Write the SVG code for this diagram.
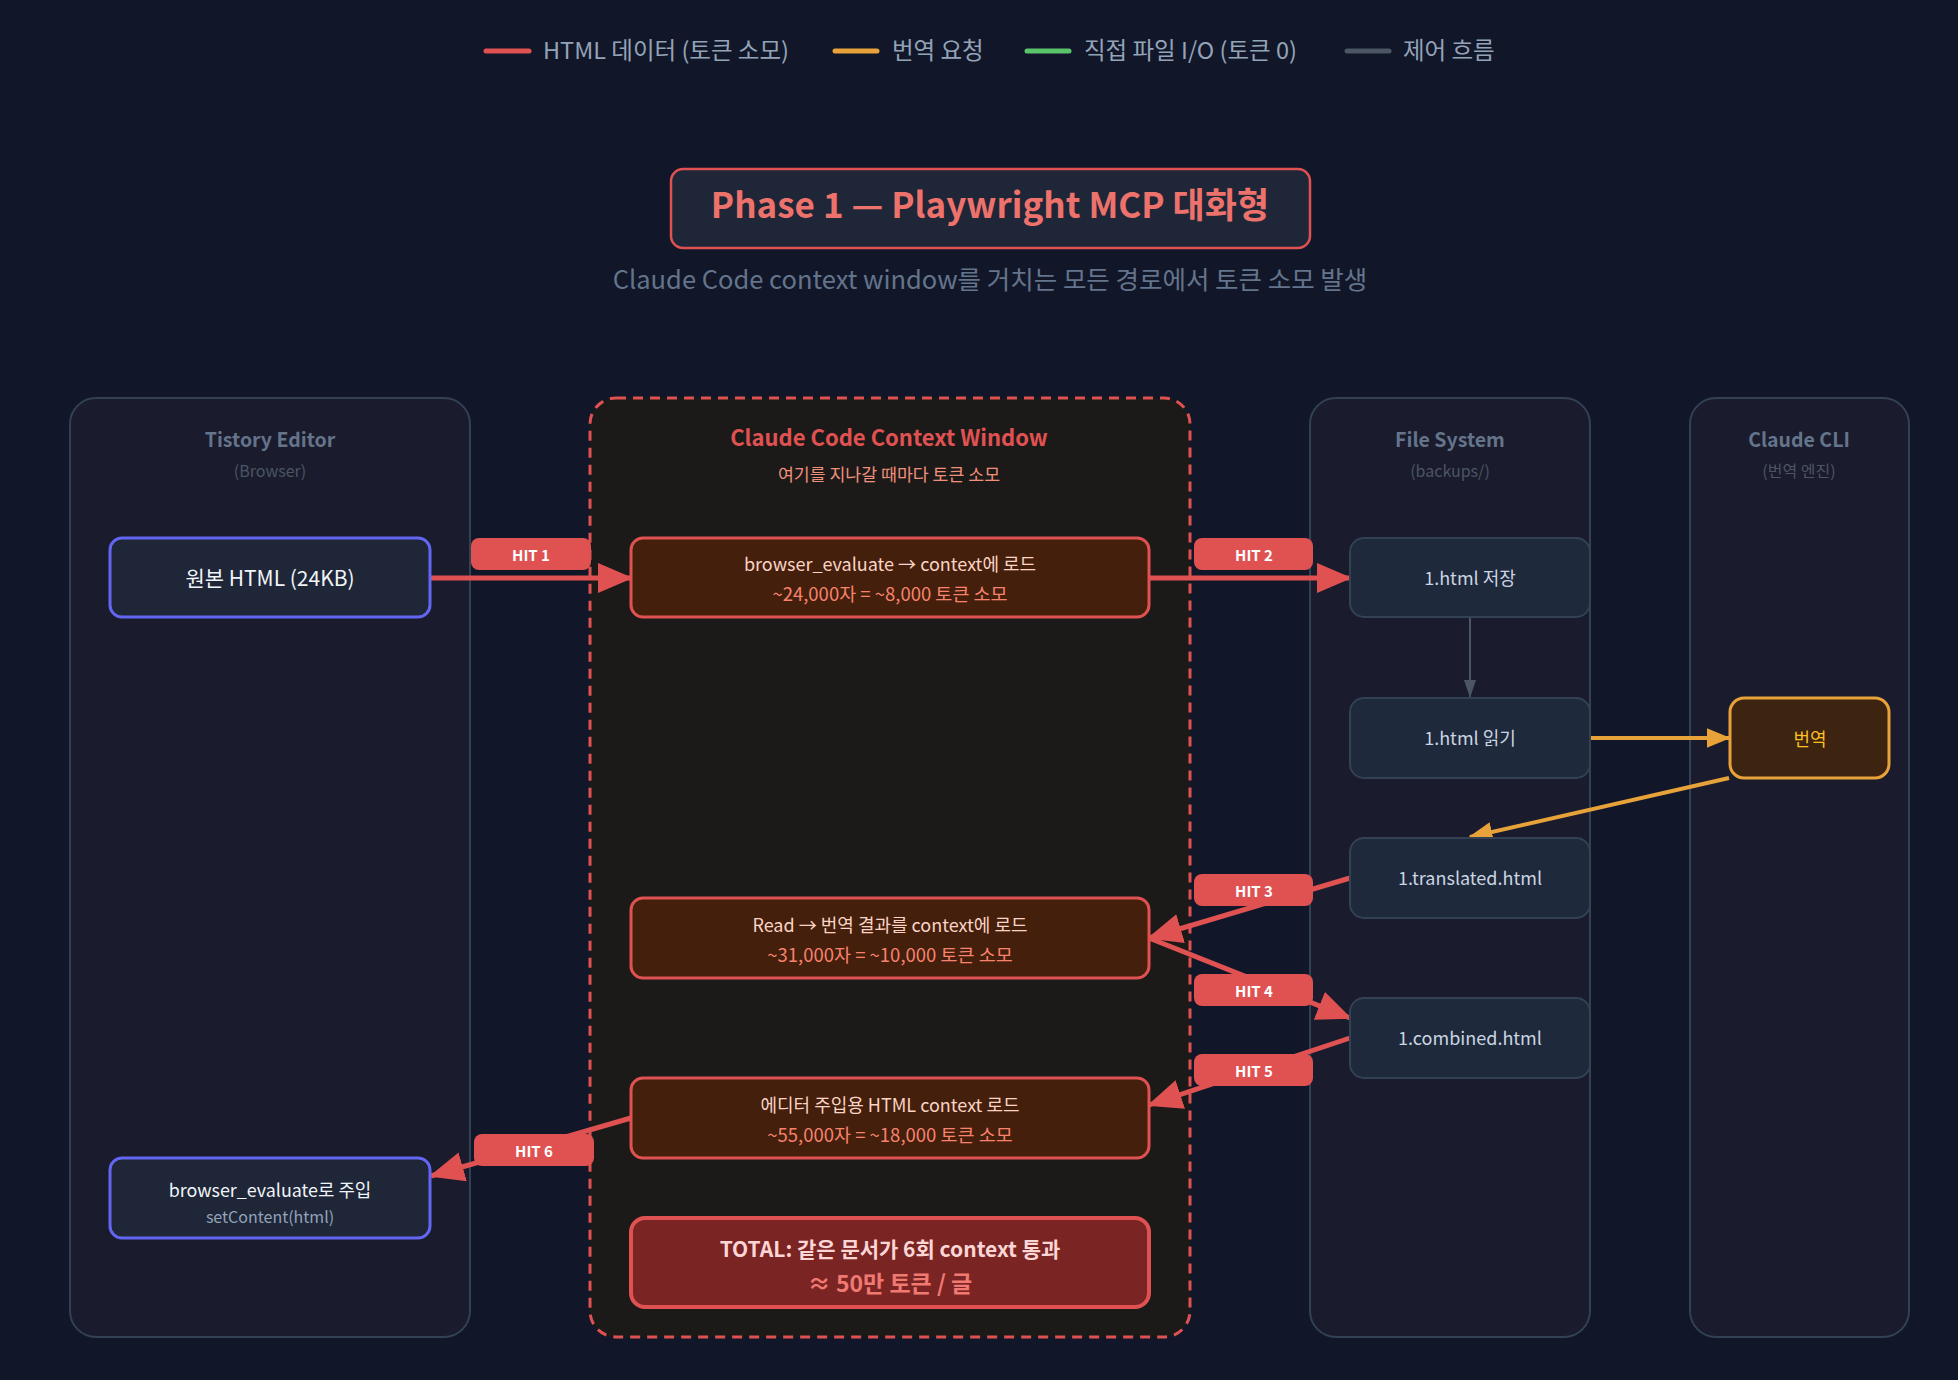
<svg xmlns="http://www.w3.org/2000/svg" width="1958" height="1380" viewBox="0 0 1958 1380">
<defs>
<style>
text{font-family:"Noto Sans CJK KR","Noto Sans",sans-serif;}
.lg{font-size:23.5px;fill:#94a3b8;}
.col{fill:#1a1b2d;stroke:#334155;stroke-width:2;}
.colh{font-size:19.5px;font-weight:600;fill:#64748b;text-anchor:middle;}
.cols{font-size:16px;fill:#4b5563;text-anchor:middle;}
.fs{fill:#1e293b;stroke:#334155;stroke-width:2;}
.fst{font-size:18px;fill:#cbd5e1;text-anchor:middle;}
.tis{fill:#1e2638;stroke:#6366f1;stroke-width:3;}
.tist{font-size:21px;fill:#f1f5f9;text-anchor:middle;}
.tist2{font-size:17.9px;fill:#f1f5f9;text-anchor:middle;}
.ctx{fill:#431f0c;stroke:#e05252;stroke-width:3;}
.ct1{font-size:18px;fill:#fcd3c4;text-anchor:middle;}
.ct2{font-size:18.5px;fill:#f8826c;text-anchor:middle;}
.red{stroke:#e05252;stroke-width:5;fill:none;marker-end:url(#ar);}
.org{stroke:#e8a23a;stroke-width:4;fill:none;marker-end:url(#ao);}
.gry{stroke:#4b5563;stroke-width:2;fill:none;marker-end:url(#ag);}
.hit rect{fill:#e05252;}
.hit text{font-size:15px;font-weight:700;fill:#ffffff;text-anchor:middle;}
</style>
<marker id="ar" markerWidth="7" markerHeight="6" refX="6.6" refY="3" orient="auto" markerUnits="strokeWidth"><path d="M0,0 L7,3 L0,6 z" fill="#e05252"/></marker>
<marker id="ao" markerWidth="6" markerHeight="5" refX="5.6" refY="2.5" orient="auto" markerUnits="strokeWidth"><path d="M0,0 L6,2.5 L0,5 z" fill="#e8a23a"/></marker>
<marker id="ag" markerWidth="9" markerHeight="6" refX="9" refY="3" orient="auto" markerUnits="strokeWidth"><path d="M0,0 L9,3 L0,6 z" fill="#4b5563"/></marker>
</defs>
<rect width="1958" height="1380" fill="#111729"/>

<g id="legend">
<line x1="486" y1="51" x2="529" y2="51" stroke="#e05252" stroke-width="5" stroke-linecap="round"/>
<text class="lg" x="543" y="59">HTML 데이터 (토큰 소모)</text>
<line x1="835" y1="51" x2="877" y2="51" stroke="#e8a23a" stroke-width="5" stroke-linecap="round"/>
<text class="lg" x="892" y="59">번역 요청</text>
<line x1="1027" y1="51" x2="1069" y2="51" stroke="#5ac46a" stroke-width="5" stroke-linecap="round"/>
<text class="lg" x="1084" y="59">직접 파일 I/O (토큰 0)</text>
<line x1="1347" y1="51" x2="1389" y2="51" stroke="#4b5563" stroke-width="5" stroke-linecap="round"/>
<text class="lg" x="1403" y="59">제어 흐름</text>
</g>

<g id="title">
<rect x="671" y="169" width="639" height="79" rx="12" fill="#1e2638" stroke="#e05252" stroke-width="2.5"/>
<text x="990" y="218" font-size="35" font-weight="700" fill="#ee726c" text-anchor="middle">Phase 1 — Playwright MCP 대화형</text>
<text x="990" y="289" font-size="25.5" fill="#64748b" text-anchor="middle">Claude Code context window를 거치는 모든 경로에서 토큰 소모 발생</text>
</g>

<g id="col-tistory">
<rect class="col" x="70" y="398" width="400" height="939" rx="26"/>
<text class="colh" x="270" y="447">Tistory Editor</text>
<text class="cols" x="270" y="477">(Browser)</text>
</g>
<g id="col-context">
<rect x="590" y="398" width="600" height="939" rx="26" fill="#1c1a19" stroke="#e05252" stroke-width="3" stroke-dasharray="10 7"/>
<text x="889" y="446" font-size="22" font-weight="700" fill="#e05252" text-anchor="middle">Claude Code Context Window</text>
<text x="889" y="481" font-size="17.3" fill="#f0907a" text-anchor="middle">여기를 지나갈 때마다 토큰 소모</text>
</g>
<g id="col-fs">
<rect class="col" x="1310" y="398" width="280" height="939" rx="26"/>
<text class="colh" x="1450" y="447">File System</text>
<text class="cols" x="1450" y="477">(backups/)</text>
</g>
<g id="col-cli">
<rect class="col" x="1690" y="398" width="219" height="939" rx="26"/>
<text class="colh" x="1799" y="447">Claude CLI</text>
<text class="cols" x="1799" y="477">(번역 엔진)</text>
</g>

<g id="connectors">
<path class="red" d="M430,578 L631,578"/>
<path class="red" d="M1149,578 L1350,578"/>
<path class="gry" d="M1470,617 L1470,698"/>
<path class="org" d="M1590,738 L1729,738"/>
<path class="org" d="M1729,778 L1470,837"/>
<path class="red" d="M1350,878 L1149,938"/>
<path class="red" d="M1149,938 L1350,1018"/>
<path class="red" d="M1350,1038 L1149,1105"/>
<path class="red" d="M631,1118 L431,1176"/>
</g>

<g id="n-src">
<rect class="tis" x="110" y="538" width="320" height="79" rx="12"/>
<text class="tist" x="270" y="586">원본 HTML (24KB)</text>
</g>
<g id="n-inject">
<rect class="tis" x="110" y="1158" width="320" height="80" rx="12"/>
<text class="tist2" x="270" y="1197">browser_evaluate로 주입</text>
<text x="270" y="1223" font-size="16" fill="#94a3b8" text-anchor="middle">setContent(html)</text>
</g>
<g id="n-ctx1">
<rect class="ctx" x="631" y="538" width="518" height="79" rx="12"/>
<text class="ct1" x="890" y="571">browser_evaluate → context에 로드</text>
<text class="ct2" x="890" y="601">~24,000자 = ~8,000 토큰 소모</text>
</g>
<g id="n-ctx2">
<rect class="ctx" x="631" y="898" width="518" height="80" rx="12"/>
<text class="ct1" x="890" y="932">Read → 번역 결과를 context에 로드</text>
<text class="ct2" x="890" y="962">~31,000자 = ~10,000 토큰 소모</text>
</g>
<g id="n-ctx3">
<rect class="ctx" x="631" y="1078" width="518" height="80" rx="12"/>
<text class="ct1" x="890" y="1112">에디터 주입용 HTML context 로드</text>
<text class="ct2" x="890" y="1142">~55,000자 = ~18,000 토큰 소모</text>
</g>
<g id="n-total">
<rect x="631" y="1218" width="518" height="89" rx="14" fill="#7a2424" stroke="#e05252" stroke-width="4"/>
<text x="890" y="1257" font-size="21" font-weight="700" fill="#fcd5d5" text-anchor="middle">TOTAL: 같은 문서가 6회 context 통과</text>
<text x="890" y="1292" font-size="23" font-weight="700" fill="#f07a72" text-anchor="middle">≈ 50만 토큰 / 글</text>
</g>
<g id="n-save">
<rect class="fs" x="1350" y="538" width="240" height="79" rx="14"/>
<text class="fst" x="1470" y="585">1.html 저장</text>
</g>
<g id="n-read">
<rect class="fs" x="1350" y="698" width="240" height="80" rx="14"/>
<text class="fst" x="1470" y="745">1.html 읽기</text>
</g>
<g id="n-translated">
<rect class="fs" x="1350" y="838" width="240" height="80" rx="14"/>
<text class="fst" x="1470" y="885">1.translated.html</text>
</g>
<g id="n-combined">
<rect class="fs" x="1350" y="998" width="240" height="80" rx="14"/>
<text class="fst" x="1470" y="1045">1.combined.html</text>
</g>
<g id="n-translate">
<rect x="1730" y="698" width="159" height="80" rx="14" fill="#3d2410" stroke="#e8a23a" stroke-width="3"/>
<text x="1810" y="746" font-size="18" fill="#fbbf24" text-anchor="middle">번역</text>
</g>

<g id="hit-labels">
<g class="hit"><rect x="471" y="538" width="120" height="32" rx="8"/><text x="531" y="561">HIT 1</text></g>
<g class="hit"><rect x="1194" y="538" width="119" height="32" rx="8"/><text x="1254" y="561">HIT 2</text></g>
<g class="hit"><rect x="1194" y="874" width="119" height="32" rx="8"/><text x="1254" y="897">HIT 3</text></g>
<g class="hit"><rect x="1194" y="974" width="119" height="32" rx="8"/><text x="1254" y="997">HIT 4</text></g>
<g class="hit"><rect x="1194" y="1054" width="119" height="32" rx="8"/><text x="1254" y="1077">HIT 5</text></g>
<g class="hit"><rect x="474" y="1134" width="120" height="32" rx="8"/><text x="534" y="1157">HIT 6</text></g>
</g>
</svg>
